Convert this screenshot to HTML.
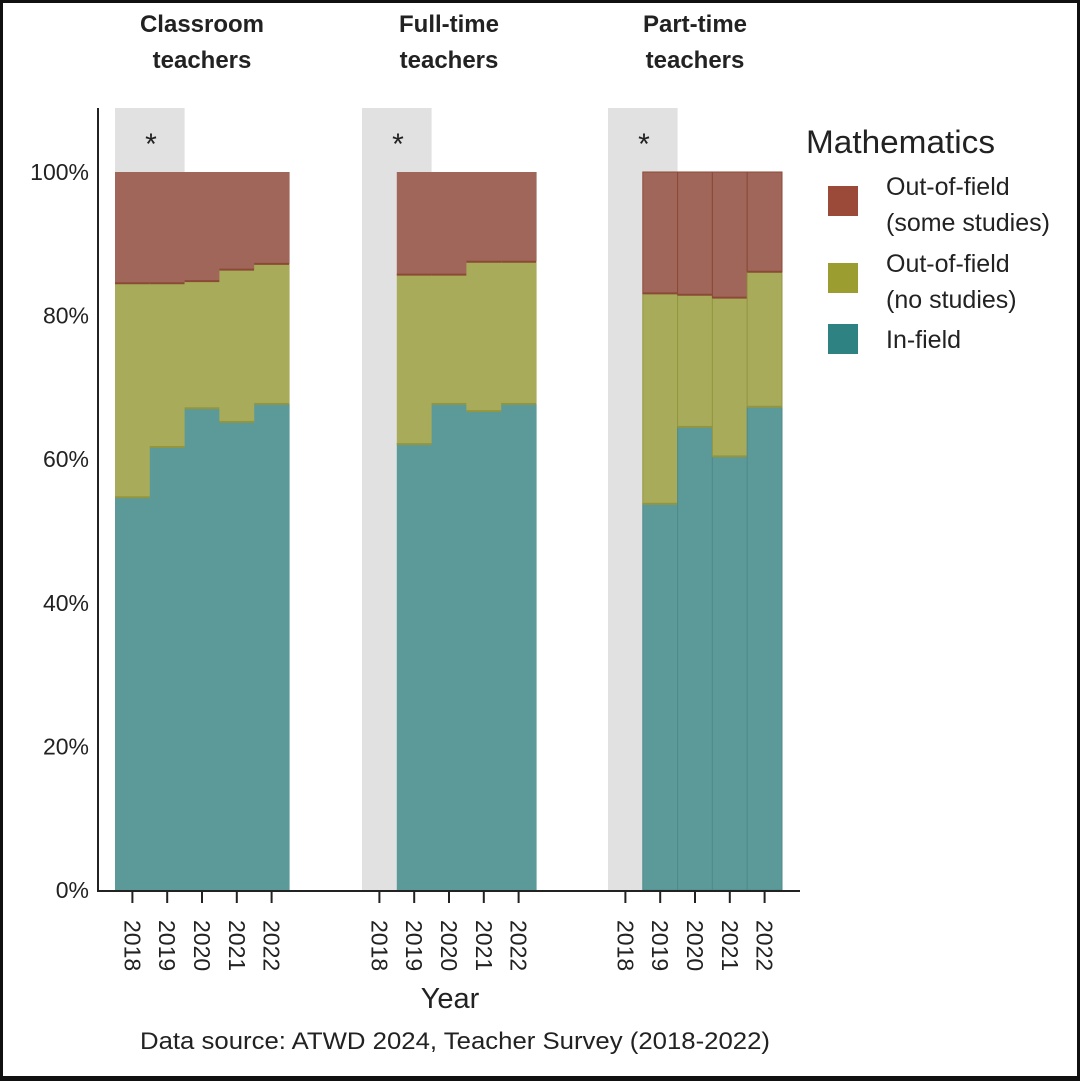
<!DOCTYPE html>
<html><head><meta charset="utf-8"><style>
html,body{margin:0;padding:0;background:#fff}
#wrap{width:1080px;height:1081px;position:relative;box-sizing:border-box;border:3px solid #111;border-bottom-width:5px;background:#fff}
svg{position:absolute;left:-3px;top:-3px}
text{font-family:"Liberation Sans",Arial,sans-serif;fill:#222}
</style></head><body>
<div id="wrap">
<svg id="chart" width="1080" height="1081"></svg>
</div>
<script>
const panels = ["Classroom teachers", "Full-time teachers", "Part-time teachers"];
const years = ["2018", "2019", "2020", "2021", "2022"];
const seriesNames = ["In-field", "Out-of-field (no studies)", "Out-of-field (some studies)"];
const inField = [[54.7, 61.7, 67.1, 65.2, 67.7], [null, 62.1, 67.7, 66.7, 67.7], [null, 53.8, 64.5, 60.4, 67.3]];
const noStudies = [[29.8, 22.8, 17.7, 21.2, 19.5], [null, 23.6, 18.0, 20.8, 19.8], [null, 29.3, 18.4, 22.1, 18.8]];
const someStudies = [[15.5, 15.5, 15.2, 13.6, 12.8], [null, 14.3, 14.3, 12.5, 12.5], [null, 16.9, 17.1, 17.5, 13.9]];
const yTicks = [0, 20, 40, 60, 80, 100];
const yTickLabels = ["0%", "20%", "40%", "60%", "80%", "100%"];

const NS = "http://www.w3.org/2000/svg";
const svg = document.getElementById("chart");
function el(tag, attrs, parent) {
  const e = document.createElementNS(NS, tag);
  for (const k in attrs) e.setAttribute(k, attrs[k]);
  (parent || svg).appendChild(e);
  return e;
}
const y = v => 890 - v * 7.18;
const panelX = [115, 362, 608];
const bw = 34.8;
const x = (p, i) => panelX[p] + i * bw;
const colors = ["#5c9a9a", "#a8ac5a", "#a1665a"];
const edge = ["#4f8a8a", "#93963f", "#8a4a35"];

panels.forEach((name, p) => {
  const g = el("g", {});
  
  
  const grey = el("rect", {x: x(p, 0), y: 108, width: bw * 2, height: 782, fill: "#e1e1e1"}, g);
  
  
  const st = el("text", {x: x(p, 0) + 36, y: 154, "font-size": 30, "text-anchor": "middle"}, g);
  st.textContent = "*";
  
  
  const words = name.split(" ");
  words.forEach((w, k) => {
    const t = el("text", {x: x(p, 0) + bw * 2.5, y: 32 + k * 36, "font-size": 24, "font-weight": "bold", "text-anchor": "middle"}, g);
    t.textContent = w;
    
    
  });
  years.forEach((yr, i) => {
    const vals = [inField[p][i], noStudies[p][i], someStudies[p][i]];
    let base = 0;
    if (vals[0] !== null) {
      vals.forEach((v, s) => {
        const r = el("rect", {x: x(p, i), y: y(base + v), width: bw + (p === 2 ? 0 : 0.6), height: y(base) - y(base + v), fill: colors[s]}, g);
        if (p === 2) r.setAttribute("stroke", edge[s]), r.setAttribute("stroke-width", 1);
        
        
        base += v;
      });
      let b = 0;
      [0, 1].forEach(s => {
        b += vals[s];
        const ln = el("line", {x1: x(p, i), x2: x(p, i) + bw, y1: y(b), y2: y(b), stroke: edge[s + 1], "stroke-width": 2}, g);
        
        
      });
    }
    const cx = x(p, i) + bw / 2;
    const tk = el("line", {x1: cx, x2: cx, y1: 891, y2: 903, stroke: "#222", "stroke-width": 2}, g);
    
    
    const tl = el("text", {x: 0, y: 0, "font-size": 23, transform: `translate(${cx - 8},${920}) rotate(90)`}, g);
    tl.textContent = yr;
    
    
  });
});

yTicks.forEach((v, i) => {
  const t = el("text", {x: 89, y: y(v) + 8, "font-size": 23, "text-anchor": "end"});
  t.textContent = yTickLabels[i];
  
  
});
const ya = el("line", {x1: 98, x2: 98, y1: 108, y2: 892, stroke: "#222", "stroke-width": 2});


const xa = el("line", {x1: 97, x2: 800, y1: 891, y2: 891, stroke: "#222", "stroke-width": 2});



const xt = el("text", {x: 450, y: 1008, "font-size": 29, "text-anchor": "middle"});
xt.textContent = "Year";


const src = el("text", {x: 140, y: 1049, "font-size": 24, textLength: 630, lengthAdjust: "spacingAndGlyphs"});
src.textContent = "Data source: ATWD 2024, Teacher Survey (2018-2022)";



const lg = el("g", {});


const lt = el("text", {x: 806, y: 153, "font-size": 32, textLength: 189, lengthAdjust: "spacingAndGlyphs"}, lg);
lt.textContent = "Mathematics";


const swC = ["#9b4a3a", "#9c9d30", "#2e8282"];
const swY = [186, 263, 324];
const labels = [["Out-of-field", "(some studies)"], ["Out-of-field", "(no studies)"], ["In-field"]];
labels.forEach((ls, k) => {
  const sw = el("rect", {x: 828, y: swY[k], width: 30, height: 30, fill: swC[k]}, lg);
  
  
  ls.forEach((l, j) => {
    const t = el("text", {x: 886, y: (ls.length === 1 ? 348 : swY[k] + 9 + j * 36), "font-size": 25}, lg);
    t.textContent = l;
    
    
  });
});
</script>
</body></html>
